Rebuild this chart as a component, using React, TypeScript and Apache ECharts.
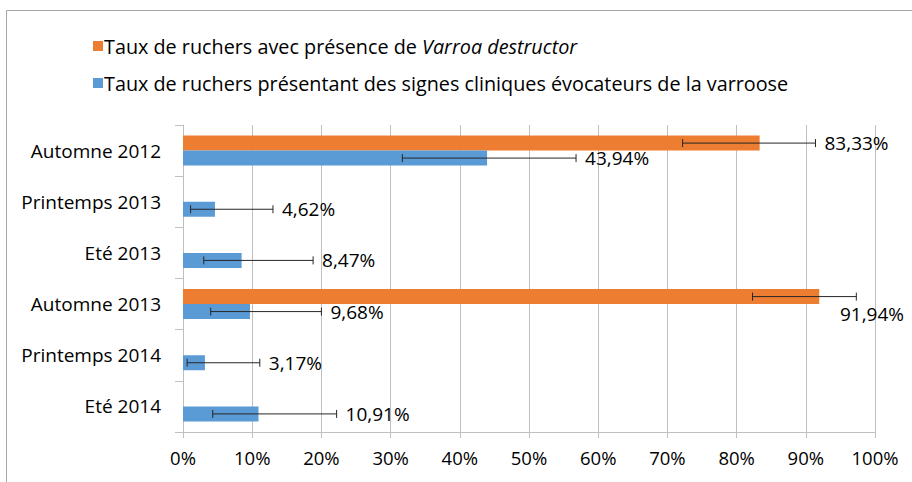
import React, { useEffect, useRef } from "react";
import * as echarts from "echarts";

const categories = ["Automne 2012", "Printemps 2013", "Eté 2013", "Automne 2013", "Printemps 2014", "Eté 2014"];
const presenceName = "Taux de ruchers avec présence de Varroa destructor";
const signsName = "Taux de ruchers présentant des signes cliniques évocateurs de la varroose";
const presenceValues: (number | null)[] = [83.33, null, null, 91.94, null, null];
const presenceLow: (number | null)[] = [72.2, null, null, 82.3, null, null];
const presenceHigh: (number | null)[] = [91.4, null, null, 97.3, null, null];
const signsValues = [43.94, 4.62, 8.47, 9.68, 3.17, 10.91];
const signsLow = [31.7, 1.1, 3.0, 4.0, 0.6, 4.3];
const signsHigh = [56.8, 13.0, 18.8, 20.0, 11.1, 22.2];
const xTicks = [0, 10, 20, 30, 40, 50, 60, 70, 80, 90, 100];

const FONT = "'Open Sans', sans-serif";
const W = 912;
const H = 482;
const BAR = 15;

const fmt = (v: number) => v.toFixed(2).replace(".", ",") + "%";

let ctx: CanvasRenderingContext2D | null = null;
const measure = (t: string, size: number) => {
  if (!ctx) ctx = document.createElement("canvas").getContext("2d");
  if (!ctx) return t.length * size * 0.55;
  ctx.font = `${size}px ${FONT}`;
  return ctx.measureText(t).width;
};

export default function App() {
  const ref = useRef<HTMLDivElement>(null);
  useEffect(() => {
    document.body.style.margin = "0";
    if (!ref.current) return;
    const chart = echarts.init(ref.current, null, { renderer: "svg" });

    const errData: any[] = [];
    presenceValues.forEach((v, i) => {
      if (v != null) errData.push([presenceLow[i], presenceHigh[i], i, v, 0]);
    });
    signsValues.forEach((v, i) => {
      errData.push([signsLow[i], signsHigh[i], i, v, 1]);
    });

    const LABEL_SIZE = 19;
    const LEGEND_SIZE = 19.8;

    chart.setOption({
      animation: false,
      backgroundColor: "#fff",
      textStyle: { fontFamily: FONT },
      graphic: [
        {
          type: "rect",
          shape: { x: 6.5, y: 10.5, width: 1000, height: 600 },
          style: { fill: "none", stroke: "#a6a6a6", lineWidth: 1 },
          silent: true,
        },
      ],
      legend: {
        data: [presenceName, signsName],
        orient: "vertical",
        left: 88,
        top: 31,
        itemWidth: 10,
        itemHeight: 10,
        itemGap: 17,
        icon: "rect",
        formatter: (name: string) =>
          name === presenceName
            ? "{n|Taux de ruchers avec présence de }{i|Varroa destructor}"
            : "{n|" + name + "}",
        textStyle: {
          color: "#000",
          fontFamily: FONT,
          fontSize: LEGEND_SIZE,
          padding: [0, 0, 0, -4],
          rich: {
            n: { color: "#000", fontFamily: FONT, fontSize: LEGEND_SIZE },
            i: { color: "#000", fontFamily: FONT, fontSize: LEGEND_SIZE, fontStyle: "italic" },
          },
        },
      },
      grid: { left: 183, right: 37, top: 125, bottom: 50, containLabel: false },
      xAxis: {
        type: "value",
        min: xTicks[0],
        max: xTicks[xTicks.length - 1],
        interval: xTicks[1] - xTicks[0],
        axisLabel: { formatter: "{value}%", color: "#000", fontSize: 18.5, fontFamily: FONT, margin: 16 },
        axisLine: { show: true, lineStyle: { color: "#bfbfbf" } },
        axisTick: { show: true, length: 6, lineStyle: { color: "#bfbfbf" } },
        splitLine: { show: true, lineStyle: { color: "#bfbfbf" } },
      },
      yAxis: {
        type: "category",
        data: categories,
        inverse: true,
        axisLabel: { color: "#000", fontSize: 19, fontFamily: FONT, margin: 22 },
        axisLine: { show: true, lineStyle: { color: "#bfbfbf" } },
        axisTick: { show: true, length: 8, lineStyle: { color: "#bfbfbf" } },
        splitLine: { show: false },
      },
      series: [
        {
          name: presenceName,
          type: "bar",
          data: presenceValues,
          barWidth: BAR,
          barGap: "0%",
          itemStyle: { color: "#ED7D31" },
        },
        {
          name: signsName,
          type: "bar",
          data: signsValues,
          barWidth: BAR,
          barGap: "0%",
          itemStyle: { color: "#5B9BD5" },
        },
        {
          name: "err",
          type: "custom",
          clip: false,
          z: 10,
          encode: { x: [0, 1], y: 2 },
          data: errData,
          renderItem: (params: any, api: any) => {
            const lo = api.value(0);
            const hi = api.value(1);
            const cat = api.value(2);
            const v = api.value(3);
            const s = api.value(4);
            const pLo = api.coord([lo, cat]);
            const pHi = api.coord([hi, cat]);
            const y = pLo[1] + (s === 0 ? -BAR / 2 : BAR / 2);
            const stroke = { stroke: "#262626", lineWidth: 1 };
            const text = fmt(v);
            const tw = measure(text, LABEL_SIZE);
            let tx = pHi[0] + 9;
            let ty = y;
            if (tx + tw > W - 6) {
              tx = W - 8 - tw;
              ty = y + 17;
            }
            return {
              type: "group",
              children: [
                { type: "line", shape: { x1: pLo[0], y1: y, x2: pHi[0], y2: y }, style: stroke },
                { type: "line", shape: { x1: pLo[0], y1: y - 4, x2: pLo[0], y2: y + 4 }, style: stroke },
                { type: "line", shape: { x1: pHi[0], y1: y - 4, x2: pHi[0], y2: y + 4 }, style: stroke },
                {
                  type: "text",
                  style: {
                    text,
                    x: tx,
                    y: ty,
                    fill: "#000",
                    fontSize: LABEL_SIZE,
                    fontFamily: FONT,
                    align: "left",
                    verticalAlign: "middle",
                  },
                },
              ],
            };
          },
        },
      ],
    });
    return () => chart.dispose();
  }, []);
  return <div ref={ref} style={{ width: W, height: H }} />;
}
